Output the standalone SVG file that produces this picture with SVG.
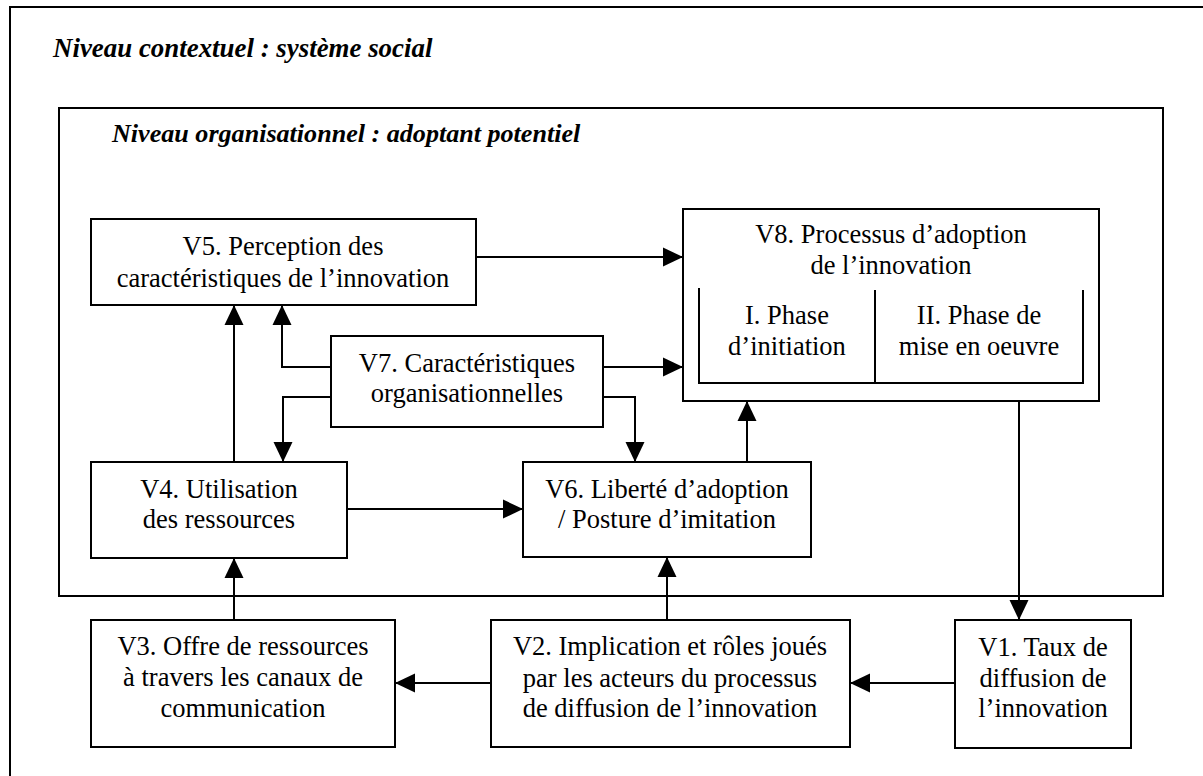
<svg xmlns="http://www.w3.org/2000/svg" width="1203" height="776" viewBox="0 0 1203 776">
<style>
.box{fill:#fff;stroke:#000;stroke-width:2}
.frame{fill:none;stroke:#000;stroke-width:2}
.ln{fill:none;stroke:#000;stroke-width:2}
.t{font-family:"Liberation Serif","Times New Roman",serif;font-size:26.5px;fill:#000;text-anchor:middle}
.h{font-family:"Liberation Serif","Times New Roman",serif;font-size:26.4px;font-weight:bold;font-style:italic;fill:#000}
</style>
<defs>
<marker id="ah" markerUnits="userSpaceOnUse" markerWidth="20" markerHeight="20" refX="20" refY="9.5" orient="auto" viewBox="0 0 20 19">
<path d="M0,0 L20,9.5 L0,19 z" fill="#000"/>
</marker>
</defs>
<rect width="1203" height="776" fill="#fff"/>
<g id="contexte">
<rect class="frame" x="10" y="7" width="1210" height="800"/>
<text class="h" x="53" y="57" style="font-size:26.9px">Niveau contextuel : système social</text>
</g>
<g id="organisation">
<rect class="frame" x="59" y="108" width="1104" height="488"/>
<text class="h" x="112" y="142" style="font-size:26.1px">Niveau organisationnel : adoptant potentiel</text>
</g>
<g id="connectors">
<path class="ln" d="M476,257 H683" marker-end="url(#ah)"/>
<path class="ln" d="M603,367 H683" marker-end="url(#ah)"/>
<path class="ln" d="M331,367 H282 V305" marker-end="url(#ah)"/>
<path class="ln" d="M331,397 H283 V462" marker-end="url(#ah)"/>
<path class="ln" d="M234,462 V305" marker-end="url(#ah)"/>
<path class="ln" d="M603,397 H635 V462" marker-end="url(#ah)"/>
<path class="ln" d="M747,462 V401" marker-end="url(#ah)"/>
<path class="ln" d="M347,509 H523" marker-end="url(#ah)"/>
<path class="ln" d="M667,620 V557" marker-end="url(#ah)"/>
<path class="ln" d="M234,620 V558" marker-end="url(#ah)"/>
<path class="ln" d="M491,683 H395" marker-end="url(#ah)"/>
<path class="ln" d="M955,683 H850" marker-end="url(#ah)"/>
<path class="ln" d="M1019,383 V620" marker-end="url(#ah)"/>
</g>
<g id="V5">
<rect class="box" x="91" y="219" width="385" height="86"/>
<text class="t" x="283" y="255">V5. Perception des</text>
<text class="t" x="283" y="287">caractéristiques de l’innovation</text>
</g>
<g id="V8">
<rect class="box" x="683" y="209" width="416" height="192"/>
<text class="t" x="891" y="243">V8. Processus d’adoption</text>
<text class="t" x="891" y="274">de l’innovation</text>
<path class="ln" d="M699,288 V383 H1083 V290 M875,290 V383"/>
<text class="t" x="787" y="324">I. Phase</text>
<text class="t" x="787" y="355">d’initiation</text>
<text class="t" x="979" y="324">II. Phase de</text>
<text class="t" x="979" y="355">mise en oeuvre</text>
</g>
<g id="V7">
<rect class="box" x="331" y="336" width="272" height="91"/>
<text class="t" x="467" y="372">V7. Caractéristiques</text>
<text class="t" x="467" y="402">organisationnelles</text>
</g>
<g id="V4">
<rect class="box" x="91" y="462" width="256" height="96"/>
<text class="t" x="219" y="498">V4. Utilisation</text>
<text class="t" x="219" y="528">des ressources</text>
</g>
<g id="V6">
<rect class="box" x="523" y="462" width="288" height="95"/>
<text class="t" x="667" y="498">V6. Liberté d’adoption</text>
<text class="t" x="667" y="528">/ Posture d’imitation</text>
</g>
<g id="V3">
<rect class="box" x="91" y="620" width="304" height="127"/>
<text class="t" x="243" y="655">V3. Offre de ressources</text>
<text class="t" x="243" y="686">à travers les canaux de</text>
<text class="t" x="243" y="717">communication</text>
</g>
<g id="V2">
<rect class="box" x="491" y="620" width="359" height="127"/>
<text class="t" x="670" y="655">V2. Implication et rôles joués</text>
<text class="t" x="670" y="687">par les acteurs du processus</text>
<text class="t" x="670" y="717">de diffusion de l’innovation</text>
</g>
<g id="V1">
<rect class="box" x="955" y="620" width="176" height="128"/>
<text class="t" x="1043" y="656">V1. Taux de</text>
<text class="t" x="1043" y="687">diffusion de</text>
<text class="t" x="1043" y="717">l’innovation</text>
</g>
</svg>
